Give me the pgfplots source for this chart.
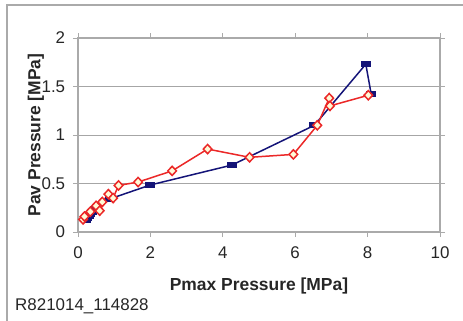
\documentclass[border=0pt]{standalone}
\usepackage{fontspec}
\setmainfont{Liberation Sans}
\usepackage{pgfplots}
\pgfplotsset{compat=1.18}

\definecolor{navyline}{RGB}{20,20,120}
\definecolor{redline}{RGB}{235,40,40}
\definecolor{diamfill}{RGB}{255,250,215}
\definecolor{framegray}{RGB}{170,170,170}

\begin{document}
\fontsize{17}{20}\selectfont
\begin{tikzpicture}[x=1bp,y=1bp]
\useasboundingbox (-78,-88) rectangle (385,232);
% outer chart frame (top and left edges)
\draw[framegray, line width=1.2bp] (-71,-90) -- (-71,227) -- (390,227);
\begin{axis}[
  at={(0,0)}, anchor=origin,
  scale only axis,
  width=362bp, height=194bp,
  xmin=0, xmax=10, ymin=0, ymax=2,
  xtick={0,2,...,10}, ytick={0,0.5,...,2},
  yticklabels={0,0.5,1,1.5,2},
  /pgf/number format/assume math mode=true,
  ticklabel style={font=\fontsize{17}{20}\selectfont, text=black!85},
  tick align=outside,
  major tick length=5bp,
  tick style={framegray, line width=1bp},
  axis line style={framegray, line width=1.5bp},
  ymajorgrids,
  grid style={gray!70, line width=0.9bp},
  xlabel={\bfseries Pmax Pressure [MPa]},
  ylabel={\bfseries Pav Pressure [MPa]},
  label style={font=\fontsize{17.5}{20}\selectfont, text=black!85},
  xlabel style={at={(axis description cs:0.5,0)}, anchor=center, yshift=-54bp},
  ylabel style={at={(axis description cs:0,0.5)}, anchor=center, yshift=0bp},
  every axis y label/.append style={at={(ticklabel cs:0.5)}},
  xticklabel style={yshift=-4bp},
  yticklabel style={xshift=-2bp},
  clip=false,
]
% measured average pressure, set 1
\addplot[navyline, line width=1.5bp, mark=square*,
  mark options={solid, mark size=2.6bp, xscale=1.6, yscale=0.8, fill=navyline, draw=navyline}]
  coordinates {
  (0.22,0.12) (0.26,0.14) (0.30,0.16) (0.34,0.18) (0.38,0.20)
  (0.43,0.22) (0.48,0.24) (0.87,0.34) (2.0,0.485) (4.25,0.69)
  (6.53,1.10) (7.95,1.73) (8.1,1.42)
  };
% measured average pressure, set 2
\addplot[redline, line width=1.5bp, mark=diamond*,
  mark options={solid, mark size=4.6bp, xscale=1.25, fill=diamfill, draw=redline, line width=1.5bp}]
  coordinates {
  (0.14,0.13) (0.18,0.16) (0.34,0.21) (0.50,0.27) (0.60,0.22)
  (0.67,0.31) (0.84,0.39) (0.97,0.35) (1.12,0.48) (1.66,0.515)
  (2.6,0.63) (3.58,0.855) (4.74,0.77) (5.95,0.80) (6.61,1.10)
  (6.94,1.38) (6.96,1.30) (8.02,1.41)
  };
\end{axis}
\node[anchor=west, text=black!85, inner sep=0pt] at (-63,-74) {R821014\_114828};
\end{tikzpicture}
\end{document}
